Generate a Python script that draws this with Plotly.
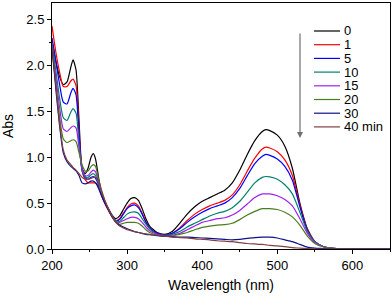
import plotly.graph_objects as go

wavelength = [200, 205, 210, 215, 220, 225, 228, 232, 236, 240, 244, 248, 252, 255, 258, 262, 266, 270, 275,
              280, 285, 290, 295, 300, 305, 310, 315, 320, 325, 330, 340, 350, 360, 370, 380, 390, 400, 410,
              420, 430, 440, 450, 460, 470, 480, 485, 490, 500, 510, 520, 530, 540, 550, 560, 570, 580, 600,
              620, 650]

abs_0 = [2.27, 2.05, 1.88, 1.79, 1.82, 1.98, 2.06, 1.95, 1.40, 0.88, 0.82, 0.88, 1.00, 1.04, 0.98, 0.78, 0.60, 0.52, 0.44,
         0.37, 0.33, 0.36, 0.43, 0.50, 0.55, 0.56, 0.53, 0.44, 0.33, 0.25, 0.18, 0.16, 0.19, 0.28, 0.38, 0.46, 0.52, 0.56,
         0.60, 0.64, 0.72, 0.86, 1.03, 1.18, 1.28, 1.30, 1.29, 1.24, 1.12, 0.88, 0.50, 0.22, 0.08, 0.03, 0.01, 0.005, 0.0,
         0.0, 0.0]
abs_1 = [2.43, 2.15, 1.93, 1.77, 1.77, 1.83, 1.85, 1.78, 1.30, 0.85, 0.76, 0.72, 0.72, 0.72, 0.72, 0.68, 0.58, 0.50, 0.42,
         0.35, 0.31, 0.33, 0.39, 0.45, 0.49, 0.50, 0.47, 0.39, 0.30, 0.23, 0.17, 0.15, 0.17, 0.23, 0.31, 0.38, 0.43, 0.47,
         0.50, 0.53, 0.59, 0.70, 0.85, 0.99, 1.09, 1.11, 1.10, 1.06, 0.97, 0.80, 0.48, 0.21, 0.08, 0.03, 0.01, 0.005, 0.0,
         0.0, 0.0]
abs_5 = [2.30, 2.05, 1.80, 1.60, 1.58, 1.70, 1.75, 1.68, 1.25, 0.86, 0.78, 0.76, 0.78, 0.79, 0.77, 0.70, 0.59, 0.51, 0.43,
         0.36, 0.31, 0.32, 0.38, 0.44, 0.47, 0.48, 0.45, 0.38, 0.29, 0.23, 0.17, 0.15, 0.17, 0.22, 0.29, 0.35, 0.40, 0.44,
         0.47, 0.50, 0.56, 0.66, 0.80, 0.93, 1.01, 1.03, 1.02, 0.98, 0.90, 0.75, 0.46, 0.20, 0.08, 0.03, 0.01, 0.005, 0.0,
         0.0, 0.0]
abs_10 = [2.25, 1.95, 1.65, 1.43, 1.40, 1.49, 1.53, 1.48, 1.15, 0.86, 0.79, 0.78, 0.81, 0.82, 0.80, 0.71, 0.60, 0.52, 0.43,
          0.36, 0.31, 0.30, 0.34, 0.38, 0.40, 0.405, 0.39, 0.33, 0.27, 0.22, 0.16, 0.15, 0.16, 0.19, 0.24, 0.28, 0.32, 0.36,
          0.39, 0.41, 0.45, 0.52, 0.62, 0.72, 0.78, 0.79, 0.785, 0.76, 0.70, 0.60, 0.40, 0.19, 0.08, 0.03, 0.01, 0.005, 0.0,
          0.0, 0.0]
abs_15 = [2.20, 1.88, 1.55, 1.31, 1.28, 1.32, 1.34, 1.32, 1.10, 0.88, 0.80, 0.80, 0.84, 0.86, 0.84, 0.73, 0.61, 0.52, 0.43,
          0.36, 0.30, 0.29, 0.31, 0.33, 0.345, 0.345, 0.33, 0.29, 0.24, 0.20, 0.16, 0.145, 0.15, 0.17, 0.21, 0.25, 0.29, 0.31,
          0.33, 0.34, 0.37, 0.42, 0.49, 0.56, 0.60, 0.60, 0.60, 0.58, 0.54, 0.47, 0.33, 0.17, 0.07, 0.03, 0.01, 0.005, 0.0,
          0.0, 0.0]
abs_20 = [2.15, 1.80, 1.45, 1.20, 1.16, 1.18, 1.19, 1.17, 1.05, 0.92, 0.85, 0.85, 0.90, 0.92, 0.90, 0.76, 0.62, 0.53, 0.44,
          0.36, 0.30, 0.27, 0.28, 0.29, 0.29, 0.29, 0.28, 0.25, 0.21, 0.18, 0.15, 0.14, 0.14, 0.16, 0.18, 0.21, 0.235, 0.25,
          0.26, 0.265, 0.28, 0.32, 0.37, 0.41, 0.44, 0.44, 0.44, 0.43, 0.40, 0.35, 0.26, 0.14, 0.06, 0.025, 0.01, 0.005, 0.0,
          0.0, 0.0]
abs_30 = [2.22, 1.75, 1.35, 1.05, 0.95, 0.90, 0.88, 0.85, 0.80, 0.72, 0.71, 0.72, 0.74, 0.74, 0.72, 0.66, 0.58, 0.51, 0.43,
          0.35, 0.29, 0.26, 0.24, 0.22, 0.205, 0.19, 0.18, 0.17, 0.16, 0.155, 0.145, 0.14, 0.135, 0.13, 0.13, 0.125, 0.12, 0.115,
          0.11, 0.105, 0.10, 0.105, 0.115, 0.125, 0.13, 0.13, 0.13, 0.12, 0.10, 0.08, 0.05, 0.02, 0.01, 0.005, 0.0, 0.0, 0.0,
          0.0, 0.0]
abs_40 = [2.25, 1.80, 1.38, 1.08, 0.97, 0.92, 0.89, 0.86, 0.82, 0.78, 0.76, 0.76, 0.77, 0.78, 0.78, 0.75, 0.64, 0.54, 0.44,
          0.36, 0.29, 0.25, 0.23, 0.21, 0.20, 0.19, 0.18, 0.17, 0.165, 0.16, 0.15, 0.14, 0.13, 0.125, 0.12, 0.11, 0.105, 0.10,
          0.09, 0.085, 0.08, 0.07, 0.06, 0.055, 0.05, 0.045, 0.04, 0.035, 0.025, 0.015, 0.01, 0.005, 0.0, 0.0, 0.0, 0.0, 0.0,
          0.0, 0.0]

series_labels = ["0", "1", "5", "10", "15", "20", "30", "40 min"]
series_values = [abs_0, abs_1, abs_5, abs_10, abs_15, abs_20, abs_30, abs_40]
series_colors = ["#000000", "#ff0000", "#0000ff", "#00806a", "#a020f0", "#4a7d1e", "#10108a", "#7f4040"]

x_ticks = [200, 300, 400, 500, 600]
y_ticks = [0.0, 0.5, 1.0, 1.5, 2.0, 2.5]

FONT = "Liberation Sans, Arial, sans-serif"

fig = go.Figure()
for lab, vals, col in zip(series_labels, series_values, series_colors):
    fig.add_trace(go.Scatter(x=wavelength, y=vals, mode="lines", name=lab,
                             line=dict(color=col, width=1.2, shape="spline", smoothing=0.6),
                             showlegend=False))

# plot area geometry (pixels)
W, H = 392, 296
ml, mr, mt, mb = 52, 2, 3, 47
pw, ph = W - ml - mr, H - mt - mb

def px_to_paper_x(px):
    return (px - ml) / pw

def px_to_paper_y(py):
    return (H - mb - py) / ph

# custom legend
for i, (lab, col) in enumerate(zip(series_labels, series_colors)):
    yy = px_to_paper_y(31 + 13.7 * i)
    fig.add_shape(type="line", xref="paper", yref="paper",
                  x0=px_to_paper_x(314), x1=px_to_paper_x(340), y0=yy, y1=yy,
                  line=dict(color=col, width=1.2))
    fig.add_annotation(xref="paper", yref="paper", x=px_to_paper_x(343), y=yy,
                       text=lab, showarrow=False, xanchor="left", yanchor="middle",
                       borderpad=0, height=13, valign="middle", align="left",
                       font=dict(family=FONT, size=13, color="black"))

# downward arrow
fig.add_annotation(xref="paper", yref="paper", axref="pixel", ayref="pixel",
                   x=px_to_paper_x(300), y=px_to_paper_y(138),
                   ax=0, ay=-106,
                   text="", showarrow=True, arrowhead=2, arrowsize=1, arrowwidth=1.2,
                   arrowcolor="#707070")

fig.update_layout(
    width=W, height=H,
    margin=dict(l=ml, r=mr, t=mt, b=mb, pad=0, autoexpand=False),
    paper_bgcolor="white", plot_bgcolor="white",
    font=dict(family=FONT, size=13, color="black"),
    xaxis=dict(range=[200, 650], tickvals=x_ticks, ticktext=[str(v) for v in x_ticks],
               showline=True, linecolor="black", linewidth=1, mirror=True,
               ticks="outside", ticklen=4, tickwidth=1, tickcolor="black",
               minor=dict(ticks="outside", ticklen=2, dtick=50, tick0=200, tickcolor="black"),
               showgrid=False, zeroline=False,
               title=dict(text="Wavelength (nm)", font=dict(size=14), standoff=8)),
    yaxis=dict(range=[0, 2.68], tickvals=y_ticks, ticktext=["%.1f" % v for v in y_ticks],
               showline=True, linecolor="black", linewidth=1, mirror=True,
               ticks="outside", ticklen=4, tickwidth=1, tickcolor="black",
               minor=dict(ticks="outside", ticklen=2, dtick=0.25, tick0=0, tickcolor="black"),
               showgrid=False, zeroline=False,
               title=dict(text="Abs", font=dict(size=14), standoff=10)),
)

fig.write_html("out.html", config={"displayModeBar": False},
               post_script="document.body.style.margin='0';document.body.style.padding='0';")
